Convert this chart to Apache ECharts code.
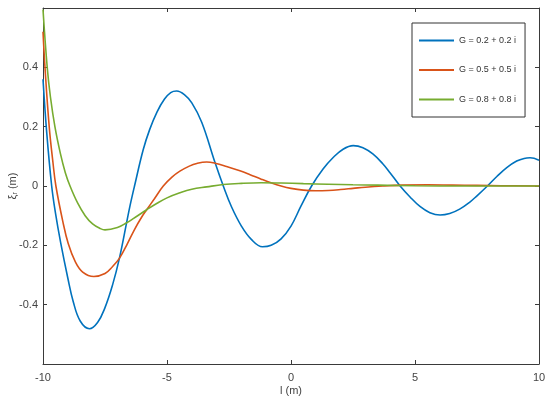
<!DOCTYPE html>
<html>
<head>
<meta charset="utf-8">
<script src="https://cdn.jsdelivr.net/npm/echarts@6/dist/echarts.min.js"></script>
<style>html,body{margin:0;padding:0;background:#fff}#c{width:550px;height:403px}</style>
</head>
<body>
<div id="c"></div>
<script>
var seriesNames = ['G = 0.2 + 0.2 i', 'G = 0.5 + 0.5 i', 'G = 0.8 + 0.8 i'];
var xTicks = [-10, -5, 0, 5, 10];
var yTicks = [-0.4, -0.2, 0, 0.2, 0.4];

var blueX = [-10, -9.85, -9.65, -9.5, -9.29, -9.0, -8.78, -8.5, -8.13, -7.8, -7.5, -7.2, -6.92, -6.63, -6.49, -6.31, -5.96, -5.7, -5.4, -5.1, -4.85, -4.61, -4.3, -4.0, -3.6, -3.06, -2.73, -2.4, -2.0, -1.6, -1.15, -0.8, -0.4, 0, 0.4, 0.83, 1.3, 1.7, 2.1, 2.51, 2.9, 3.3, 3.7, 4.0, 4.4, 4.8, 5.2, 5.6, 6.01, 6.4, 6.8, 7.2, 7.5, 7.92, 8.3, 8.7, 9.1, 9.4, 9.64, 10];
var blueY = [0.36, 0.18, 0, -0.09, -0.19, -0.31, -0.39, -0.455, -0.481, -0.46, -0.41, -0.335, -0.244, -0.124, -0.066, 0, 0.122, 0.19, 0.25, 0.293, 0.315, 0.32, 0.308, 0.28, 0.215, 0.078, 0, -0.07, -0.135, -0.18, -0.205, -0.2, -0.178, -0.135, -0.068, 0, 0.058, 0.096, 0.124, 0.136, 0.129, 0.108, 0.075, 0.044, 0, -0.037, -0.069, -0.09, -0.098, -0.093, -0.078, -0.055, -0.033, 0, 0.032, 0.062, 0.084, 0.093, 0.095, 0.087];

var orangeX = [-10, -9.92, -9.75, -9.6, -9.48, -9.2, -8.98, -8.7, -8.4, -7.95, -7.5, -7.2, -6.92, -6.6, -6.3, -6.0, -5.82, -5.5, -5.15, -4.8, -4.48, -4.1, -3.8, -3.4, -3.06, -2.6, -2.06, -1.65, -1.2, -0.78, -0.4, 0, 0.5, 1.0, 1.5, 2.0, 2.5, 3.0, 3.7, 4.5, 5.5, 6.5, 7.5, 8.5, 10];
var orangeY = [0.52, 0.4, 0.2, 0.08, 0, -0.12, -0.195, -0.255, -0.29, -0.305, -0.295, -0.272, -0.244, -0.195, -0.145, -0.102, -0.08, -0.042, 0, 0.03, 0.05, 0.067, 0.076, 0.081, 0.077, 0.066, 0.051, 0.038, 0.023, 0.01, 0, -0.008, -0.014, -0.016, -0.015, -0.012, -0.008, -0.004, 0, 0.003, 0.004, 0.003, 0.002, 0.001, 0];

var greenX = [-10, -9.83, -9.7, -9.52, -9.3, -9.1, -8.91, -8.6, -8.3, -8.0, -7.7, -7.5, -7.0, -6.63, -6.36, -5.82, -5.4, -5.0, -4.48, -4.0, -3.4, -2.73, -2.0, -1.2, -0.4, 0.5, 1.5, 2.5, 3.5, 5, 7, 10];
var greenY = [0.595, 0.4, 0.3, 0.2, 0.11, 0.045, 0, -0.058, -0.1, -0.128, -0.143, -0.148, -0.14, -0.124, -0.11, -0.08, -0.058, -0.04, -0.023, -0.011, -0.003, 0.005, 0.009, 0.011, 0.01, 0.008, 0.006, 0.004, 0.003, 0.001, 0, 0];

var colors = ['#0072BD', '#D95319', '#77AC30'];

function pairs(xs, ys) { return xs.map(function (x, i) { return [x, ys[i]]; }); }

var frame = '#3a3a3a';
var font = 'Liberation Sans, Arial, sans-serif';

function xAx(pos, show) {
  return {
    type: 'value', position: pos, min: -10, max: 10, interval: 5,
    axisLine: { show: true, onZero: false, lineStyle: { color: frame, width: 1 } },
    axisTick: { show: true, inside: true, length: 4, lineStyle: { color: frame } },
    axisLabel: { show: show, margin: 8, color: '#444', fontSize: 11, fontFamily: font,
      formatter: function (v) { return xTicks.indexOf(v) >= 0 ? String(v) : ''; } },
    splitLine: { show: false },
    name: show ? 'l (m)' : '', nameLocation: 'middle', nameGap: 21, nameMoveOverlap: false,
    nameTextStyle: { color: '#444', fontSize: 11, fontFamily: font }
  };
}
function yAx(pos, show) {
  return {
    type: 'value', position: pos, min: -0.6, max: 0.6, interval: 0.2,
    axisLine: { show: true, onZero: false, lineStyle: { color: frame, width: 1 } },
    axisTick: { show: true, inside: true, length: 4, lineStyle: { color: frame } },
    axisLabel: { show: show, margin: 5, color: '#444', fontSize: 11, fontFamily: font,
      formatter: function (v) {
        var r = Math.round(v * 10) / 10;
        return yTicks.indexOf(r) >= 0 ? String(r) : '';
      } },
    splitLine: { show: false },
    name: show ? '{a|ξ}{s|r}{a| (m)}' : '', nameLocation: 'middle', nameGap: 24, nameMoveOverlap: false,
    nameTextStyle: { color: '#444', fontFamily: font,
      rich: { a: { fontSize: 11, color: '#444', fontFamily: font }, s: { fontSize: 7, color: '#444', fontFamily: font, verticalAlign: 'bottom', padding: [6, 0, 0, 0] } } }
  };
}

var chart = echarts.init(document.getElementById('c'), null, { renderer: 'canvas' });
chart.setOption({
  animation: false,
  backgroundColor: '#fff',
  grid: { left: 43, right: 11, top: 8, bottom: 39, containLabel: false, outerBoundsMode: 'none' },
  xAxis: [xAx('bottom', true), xAx('top', false)],
  yAxis: [yAx('left', true), yAx('right', false)],
  legend: {
    orient: 'vertical', left: 412, top: 23,
    backgroundColor: '#fff', borderColor: '#333', borderWidth: 1,
    padding: [13, 9, 13, 7], itemGap: 20.5, itemWidth: 35, itemHeight: 2,
    icon: 'rect',
    textStyle: { fontSize: 9, color: '#333', fontFamily: font },
    data: seriesNames
  },
  series: [
    { name: seriesNames[0], data: pairs(blueX, blueY) },
    { name: seriesNames[1], data: pairs(orangeX, orangeY) },
    { name: seriesNames[2], data: pairs(greenX, greenY) }
  ].map(function (s, i) {
    return Object.assign(s, {
      type: 'line', xAxisIndex: 0, yAxisIndex: 0, showSymbol: false, symbol: 'none',
      smooth: 0.4, color: colors[i],
      lineStyle: { color: colors[i], width: 1.6 }, itemStyle: { color: colors[i] }
    });
  })
});
</script>
</body>
</html>
